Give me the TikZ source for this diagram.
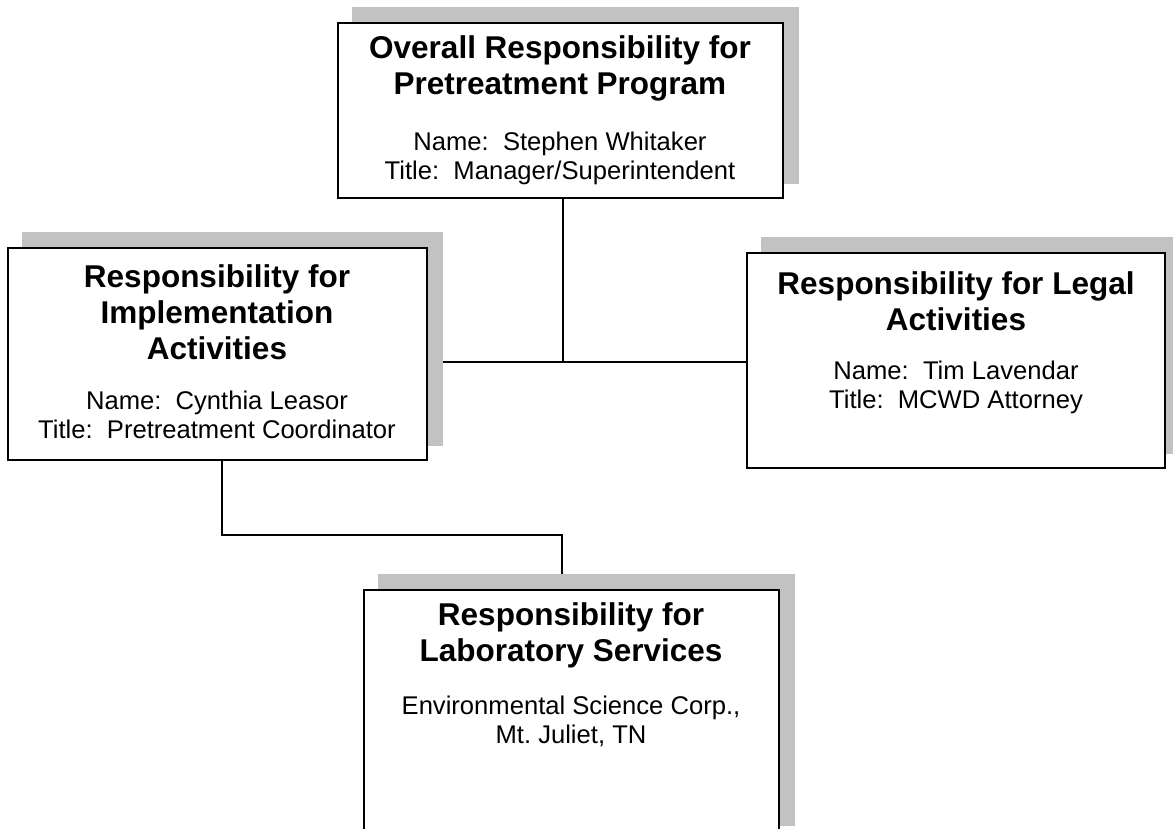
\documentclass[tikz,border=0pt]{standalone}
\usepackage{fontspec}
\setmainfont{Liberation Sans}
\frenchspacing
\pgfdeclarelayer{background}
\pgfsetlayers{background,main}
\definecolor{shadowgray}{gray}{0.76}
\tikzset{
  box/.style={draw=black, line width=1.6pt, fill=white, inner sep=0pt, rectangle},
  shade/.style={fill=shadowgray, draw=none},
  link/.style={draw=black, line width=1.4pt},
  headtext/.style={font=\bfseries\fontsize{31.5}{36}\selectfont, align=center, inner sep=0pt},
  bodytext/.style={font=\fontsize{25.6}{28.5}\selectfont, align=center, inner sep=0pt},
}
\begin{document}
\begin{tikzpicture}[x=1pt, y=-1pt]
\useasboundingbox (0,0) rectangle (1173,829);
\clip (0,0) rectangle (1173,829);

% boxes (pixel-style coordinates, y grows downwards)
\node[box, minimum width=445pt, minimum height=175pt] (topbox)   at (560.5,110.5) {};
\node[box, minimum width=419pt, minimum height=212pt] (implbox)  at (217.5,354)   {};
\node[box, minimum width=418pt, minimum height=215pt] (legalbox) at (956,360.5)   {};
\node[box, minimum width=415pt, minimum height=250pt] (labbox)   at (571.5,715)   {};

% texts
\node[headtext] (topHead)   at (560,68.5) {Overall Responsibility for\\Pretreatment Program};
\node[bodytext] (topBody)   at (560,158.5) {Name:~~Stephen Whitaker\\Title:~~Manager/Superintendent};
\node[headtext] (implHead)  at (217,312) {Responsibility for\\Implementation\\Activities};
\node[bodytext] (implBody)  at (217,415) {Name:~~Cynthia Leasor\\Title:~~Pretreatment Coordinator};
\node[headtext] (legalHead) at (956,301) {Responsibility for Legal\\Activities};
\node[bodytext] (legalBody) at (956,387.5) {Name:~~Tim Lavendar\\Title:~~MCWD Attorney};
\node[headtext] (labHead)   at (571,635) {Responsibility for\\Laboratory Services};
\node[bodytext] (labBody)   at (571,721.5) {Environmental Science Corp.,\\Mt.\ Juliet, TN};

% junction and bend points of the connectors
\coordinate (junc) at (563,362);
\coordinate (bendA) at (222,535);
\coordinate (bendB) at (562,535);

\begin{pgfonlayer}{background}
  % connectors
  \draw[link] (topbox.south -| junc) -- (junc);
  \draw[link] (implbox.east |- junc) -- (legalbox.west |- junc);
  \draw[link] (implbox.south -| bendA) -- (bendA) -- (bendB) -- (labbox.north -| bendB);
  % drop shadows, offset up and to the right
  \foreach \b in {topbox,implbox,legalbox,labbox}{
    \fill[shade] ([xshift=15pt,yshift=15pt]\b.south west) rectangle ([xshift=15pt,yshift=15pt]\b.north east);
  }
\end{pgfonlayer}
\end{tikzpicture}
\end{document}
